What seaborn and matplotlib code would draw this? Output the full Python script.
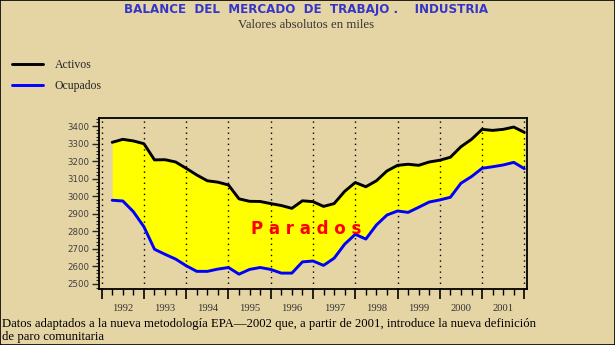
import numpy as np
import pandas as pd
import matplotlib
matplotlib.use("Agg")
import matplotlib.pyplot as plt
from matplotlib.lines import Line2D
from matplotlib.ticker import MultipleLocator, FixedLocator
import seaborn as sns

# Quarterly series, 1992-T1 .. 2001-T4 (thousands of people)
anios = list(range(1992, 2002))
trimestres = [a + q / 4 for a in anios for q in (1, 2, 3, 4)]
activos = [3307, 3324, 3315, 3299, 3207, 3208, 3195, 3159, 3121, 3088,
           3080, 3064, 2985, 2971, 2970, 2958, 2947, 2931, 2974, 2969,
           2942, 2958, 3028, 3078, 3054, 3088, 3144, 3176, 3182, 3176,
           3195, 3205, 3222, 3282, 3324, 3381, 3375, 3381, 3394, 3364]
ocupados = [2977, 2973, 2912, 2826, 2698, 2669, 2642, 2604, 2572, 2572,
            2585, 2594, 2556, 2583, 2594, 2583, 2562, 2562, 2626, 2631,
            2606, 2647, 2727, 2783, 2756, 2836, 2893, 2916, 2908, 2937,
            2967, 2979, 2994, 3074, 3112, 3159, 3168, 3178, 3193, 3157]
y_ticks = list(range(2500, 3401, 100))

df = pd.DataFrame({"periodo": trimestres, "Activos": activos, "Ocupados": ocupados})

sns.set_style("ticks")
plt.rcParams["font.family"] = ["DejaVu Sans"]

bg = "#E5D4A4"
W, H = 615, 345
fig = plt.figure(figsize=(W / 100, H / 100), dpi=100, facecolor=bg)
fig.patches.append(plt.Rectangle((0, 0), 1, 1, transform=fig.transFigure,
                                 fill=False, edgecolor="black", linewidth=1.2))

x0, x1, y0, y1 = 98.7, 527.3, 118, 289
ax = fig.add_axes([x0 / W, 1 - y1 / H, (x1 - x0) / W, (y1 - y0) / H])
ax.set_facecolor(bg)

# Unemployed band between the two series
ax.fill_between(df["periodo"], df["Ocupados"], df["Activos"], color="#FFFF00",
                linewidth=0, zorder=1)
sns.lineplot(data=df, x="periodo", y="Activos", color="black", linewidth=2.1,
             ax=ax, zorder=3)
sns.lineplot(data=df, x="periodo", y="Ocupados", color="#0000FF", linewidth=2.1,
             ax=ax, zorder=3)

# Dotted year separators
for yr in range(1992, 2003):
    ax.axvline(yr, color="black", linestyle=(0, (1, 3)), linewidth=1, zorder=2)

ax.set_xlim(1991.93, 2002.07)
ax.set_ylim(2471.5, 3445.6)
ax.set_xlabel("")
ax.set_ylabel("")

ax.xaxis.set_major_locator(FixedLocator(list(range(1992, 2003))))
ax.xaxis.set_minor_locator(MultipleLocator(0.25))
ax.set_xticklabels([])
ax.tick_params(axis="x", which="major", length=7, width=1.2, direction="out", color="black")
ax.tick_params(axis="x", which="minor", length=4, width=1, direction="out", color="black")
for yr in anios:
    ax.text(yr + 0.5, -0.115, str(yr), transform=ax.get_xaxis_transform(),
            ha="center", va="center", fontsize=7.6, family="Liberation Serif",
            color="#333333")

ax.set_yticks(y_ticks)
ax.set_yticklabels([str(v) for v in y_ticks])
ax.yaxis.set_minor_locator(MultipleLocator(20))
ax.tick_params(axis="y", which="major", length=5, width=1, direction="out",
               labelsize=6.2, labelcolor="#404040", pad=2)
ax.tick_params(axis="y", which="minor", length=2.5, width=0.8, direction="out")

for s in ax.spines.values():
    s.set_visible(True)
    s.set_color("black")
    s.set_linewidth(1.3)

ax.text(1996.85, 2783, "P a r a d o s", ha="center", va="baseline",
        color="#FF0000", fontsize=12, fontweight="bold", zorder=4)

fig.text(306 / W, 1 - 10 / H, "BALANCE  DEL  MERCADO  DE  TRABAJO .    INDUSTRIA",
         ha="center", va="center", color="#3535C8", fontsize=8.6, fontweight="bold")
fig.text(306 / W, 1 - 24.5 / H, "Valores absolutos en miles", ha="center",
         va="center", color="#333333", fontsize=9.2, family="Liberation Serif")

handles = [Line2D([], [], color="black", linewidth=2.1),
           Line2D([], [], color="#0000FF", linewidth=2.1)]
fig.legend(handles, ["Activos", "Ocupados"], loc="upper left",
           bbox_to_anchor=(12 / W, 1 - 59 / H), frameon=False,
           prop={"family": "Liberation Serif", "size": 8.5},
           handlelength=2.6, handletextpad=1.0, labelspacing=0.75,
           borderaxespad=0, borderpad=0)

fig.text(2 / W, 1 - 330.5 / H,
         "Datos adaptados a la nueva metodología EPA—2002 que, a partir de 2001, "
         "introduce la nueva definición\nde paro comunitaria",
         ha="left", va="center", fontsize=9.2, family="Liberation Serif",
         color="black", linespacing=1.05)

fig.savefig("out.png", dpi=100, facecolor=bg)
